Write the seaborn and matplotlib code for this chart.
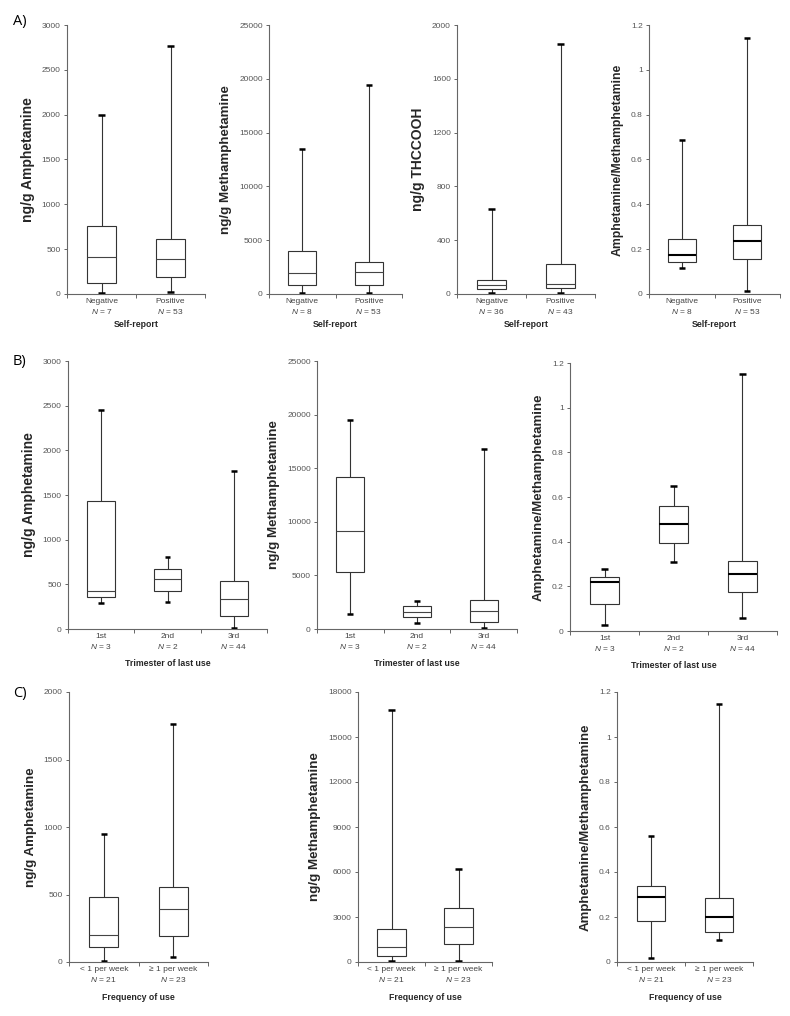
import numpy as np
import pandas as pd
import matplotlib
matplotlib.use("Agg")
import matplotlib.pyplot as plt
import seaborn as sns

# five-number summaries: [min, q1, median, q3, max]
selfreport_groups = ["Negative", "Positive"]
a_amph_n = [7, 53]
a_amph = [[7, 126, 416, 762, 2000], [19, 186, 394, 610, 2770]]
a_meth_n = [8, 53]
a_meth = [[60, 836, 1920, 3965, 13475], [60, 836, 2014, 3005, 19420]]
a_thc_n = [36, 43]
a_thc = [[5, 35, 67, 101, 630], [5, 45, 72, 220, 1859]]
a_ratio_n = [8, 53]
a_ratio = [[0.117, 0.144, 0.176, 0.247, 0.687], [0.013, 0.156, 0.237, 0.307, 1.142]]

trimester_groups = ["1st", "2nd", "3rd"]
b_n = [3, 2, 44]
b_amph = [[291, 358, 421, 1435, 2456], [300, 430, 555, 675, 805], [15, 145, 332, 540, 1767]]
b_meth = [[1366, 5280, 9100, 14220, 19470], [528, 1087, 1584, 2112, 2640], [62, 621, 1646, 2670, 16830]]
b_ratio = [[0.027, 0.121, 0.218, 0.244, 0.276], [0.311, 0.393, 0.480, 0.560, 0.649],
           [0.057, 0.173, 0.254, 0.314, 1.151]]

freq_groups = ["< 1 per week", "≥ 1 per week"]
c_n = [21, 23]
c_amph = [[7, 114, 203, 478, 948], [37, 193, 391, 552, 1765]]
c_meth = [[45, 379, 1002, 2228, 16775], [45, 1203, 2361, 3587, 6215]]
c_ratio = [[0.016, 0.184, 0.289, 0.338, 0.558], [0.096, 0.133, 0.200, 0.284, 1.145]]

sns.set_style("ticks")
plt.rcParams["font.family"] = ["Liberation Sans", "DejaVu Sans"]
plt.rcParams["mathtext.fontset"] = "custom"
plt.rcParams["mathtext.it"] = "Liberation Sans:italic"
plt.rcParams["mathtext.rm"] = "Liberation Sans"

W, H = 790, 1016
fig = plt.figure(figsize=(W / 100, H / 100), dpi=100)


def add_ax(x0, x1, ytop, ybot):
    return fig.add_axes([x0 / W, 1 - ybot / H, (x1 - x0) / W, (ybot - ytop) / H])


def panel(ax, groups, ns, summaries, ymax, ystep, ylabel, xlabel, ysize=9.6,
          bold_median=False, xlab_off=31):
    df = pd.DataFrame({
        "group": np.repeat(groups, 5),
        "value": np.concatenate(summaries),
    })
    if bold_median:
        med = dict(color="black", linewidth=1.5, solid_capstyle="butt")
    else:
        med = dict(color="#444444", linewidth=0.8, solid_capstyle="butt")
    sns.boxplot(data=df, x="group", y="value", ax=ax, whis=(0, 100), width=0.42,
                color="white", linecolor="#333333", linewidth=0.8,
                capprops=dict(color="black", linewidth=1.8, solid_capstyle="butt"),
                capwidths=0.09, medianprops=med, showfliers=False)
    n = len(groups)
    ax.set_xlim(-0.5, n - 0.5)
    ax.set_ylim(0, ymax)
    yt = np.arange(0, ymax + ystep / 2, ystep)
    ax.set_yticks(yt)
    ax.set_yticklabels([f"{round(v, 6):g}" for v in yt], fontsize=6, color="#555555")
    ax.set_xticks(np.arange(n + 1) - 0.5)
    ax.set_xticklabels([""] * (n + 1))
    ax.set_xticks(np.arange(n), minor=True)
    ax.set_xticklabels([f"{g}\n$N$ = {k}" for g, k in zip(groups, ns)], minor=True,
                       fontsize=6, color="#444444", linespacing=1.3)
    ax.tick_params(axis="x", which="minor", length=0, pad=3)
    ax.tick_params(axis="x", which="major", length=3, width=0.7, color="#666666")
    ax.tick_params(axis="y", length=2.5, width=0.7, color="#666666", pad=2)
    for s in ["top", "right"]:
        ax.spines[s].set_visible(False)
    for s in ["left", "bottom"]:
        ax.spines[s].set_color("#666666")
        ax.spines[s].set_linewidth(0.8)
    ax.set_ylabel(ylabel, fontsize=ysize, fontweight="bold", labelpad=5)
    ax.set_xlabel("")
    hpx = ax.get_position().height * H
    ax.text(0.5, -xlab_off / hpx, xlabel, transform=ax.transAxes, ha="center", va="center",
            fontsize=6.3, fontweight="bold")


# Row A
panel(add_ax(67, 205, 25, 294), selfreport_groups, a_amph_n, a_amph, 3000, 500,
      "ng/g Amphetamine", "Self-report", ysize=10)
panel(add_ax(269, 402, 25, 294), selfreport_groups, a_meth_n, a_meth, 25000, 5000,
      "ng/g Methamphetamine", "Self-report")
panel(add_ax(457, 595, 25, 294), selfreport_groups, a_thc_n, a_thc, 2000, 400,
      "ng/g THCCOOH", "Self-report", ysize=10)
panel(add_ax(649, 780, 25, 294), selfreport_groups, a_ratio_n, a_ratio, 1.2, 0.2,
      "Amphetamine/Methamphetamine", "Self-report", ysize=8.8, bold_median=True)

# Row B
panel(add_ax(68, 267, 361, 629), trimester_groups, b_n, b_amph, 3000, 500,
      "ng/g Amphetamine", "Trimester of last use", ysize=10, xlab_off=34)
panel(add_ax(317, 517, 361, 629), trimester_groups, b_n, b_meth, 25000, 5000,
      "ng/g Methamphetamine", "Trimester of last use", xlab_off=34)
panel(add_ax(570, 777, 363, 631), trimester_groups, b_n, b_ratio, 1.2, 0.2,
      "Amphetamine/Methamphetamine", "Trimester of last use", ysize=9.5,
      bold_median=True, xlab_off=34)

# Row C
panel(add_ax(69, 208, 692, 962), freq_groups, c_n, c_amph, 2000, 500,
      "ng/g Amphetamine", "Frequency of use", xlab_off=35)
panel(add_ax(358, 492, 692, 962), freq_groups, c_n, c_meth, 18000, 3000,
      "ng/g Methamphetamine", "Frequency of use", xlab_off=35)
panel(add_ax(617, 753, 692, 962), freq_groups, c_n, c_ratio, 1.2, 0.2,
      "Amphetamine/Methamphetamine", "Frequency of use", ysize=9.5,
      bold_median=True, xlab_off=35)

for lab, y in [("A)", 22), ("B)", 362), ("C)", 693)]:
    fig.text(13 / W, 1 - y / H, lab, fontsize=10.5, ha="left", va="center",
             color="black", family=["Open Sans", "DejaVu Sans"])

fig.savefig("out.png", dpi=100, facecolor="white")
